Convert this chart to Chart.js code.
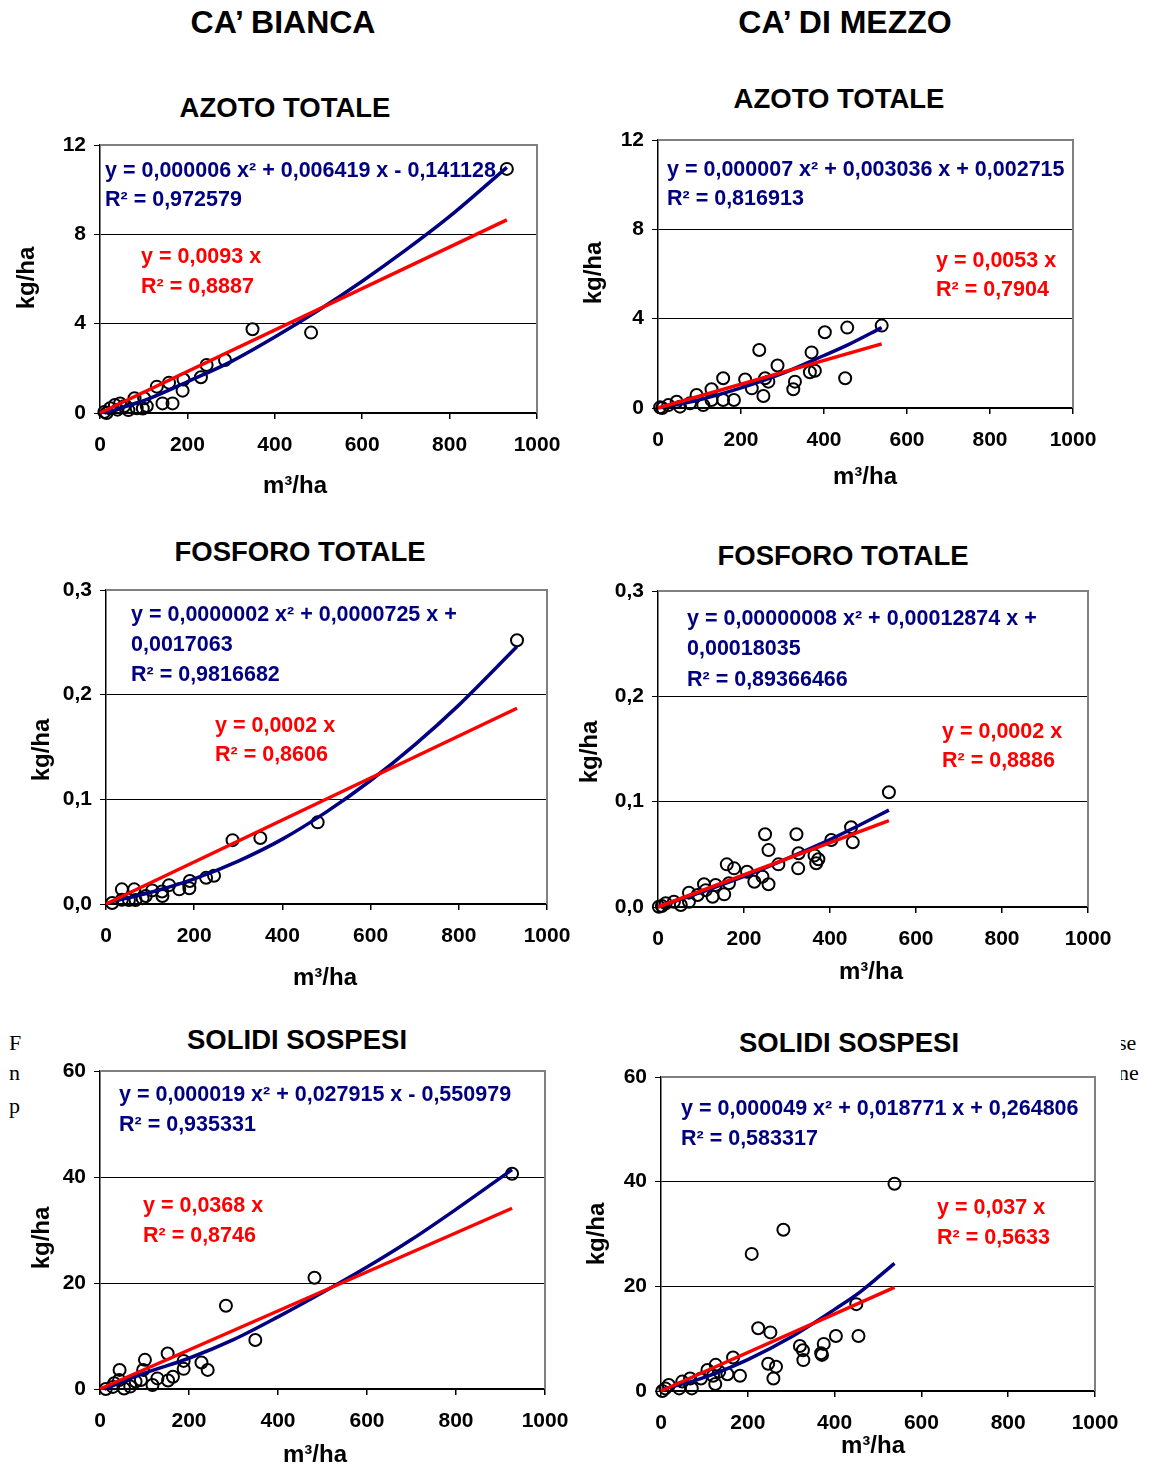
<!DOCTYPE html>
<html><head><meta charset="utf-8">
<script src="https://cdn.jsdelivr.net/npm/chart.js@4.4.0/dist/chart.umd.min.js"></script>
<style>
html,body{margin:0;padding:0;background:#fff;}
#page{position:relative;width:1152px;height:1470px;overflow:hidden;font-family:"Liberation Sans",Arial,sans-serif;background:#fff;}
canvas{position:absolute;left:0;top:0;}
.h{position:absolute;font-weight:bold;transform:translate(-50%,-50%);white-space:nowrap;color:#000;}
.bg{position:absolute;font-family:"Liberation Serif","Times New Roman",serif;font-size:22px;line-height:22px;transform:translateY(-50%);color:#000;}
</style></head><body><div id="page">
<div class="bg" style="left:9px;top:1043px">F</div>
<div class="bg" style="left:9px;top:1073px">n</div>
<div class="bg" style="left:9px;top:1106px">p</div>
<div class="bg" style="left:1121px;top:1043px;width:31px;overflow:hidden"><span style="margin-left:-3px">se</span></div>
<div class="bg" style="left:1121px;top:1073px;width:31px;overflow:hidden"><span style="margin-left:-3px">ne</span></div>
<div class="h" style="left:283px;top:22px;font-size:32px">CA’ BIANCA</div>
<div class="h" style="left:845px;top:22px;font-size:32px">CA’ DI MEZZO</div>
<div class="h" style="left:285px;top:108px;font-size:27.5px">AZOTO TOTALE</div>
<div class="h" style="left:839px;top:99px;font-size:27.5px">AZOTO TOTALE</div>
<div class="h" style="left:300px;top:552px;font-size:27.5px">FOSFORO TOTALE</div>
<div class="h" style="left:843px;top:556px;font-size:27.5px">FOSFORO TOTALE</div>
<div class="h" style="left:297px;top:1040px;font-size:27.5px">SOLIDI SOSPESI</div>
<div class="h" style="left:849px;top:1043px;font-size:27.5px">SOLIDI SOSPESI</div>
<canvas id="c1" width="1152" height="1470"></canvas>
<canvas id="c2" width="1152" height="1470"></canvas>
<canvas id="c3" width="1152" height="1470"></canvas>
<canvas id="c4" width="1152" height="1470"></canvas>
<canvas id="c5" width="1152" height="1470"></canvas>
<canvas id="c6" width="1152" height="1470"></canvas>
</div>
<script>
// ---------- DATA ----------
const xTickLabels = ['0','200','400','600','800','1000'];
const yTicksAzoto = ['0','4','8','12'];
const yTicksFosforo = ['0,0','0,1','0,2','0,3'];
const yTicksSolidi = ['0','20','40','60'];

// CA' BIANCA - AZOTO TOTALE
const cbAzX = [931,349,483,286,244,231,191,189,158,130,166,143,101,79,84,65,46,34,23,15,107,98,55,40,10];
const cbAzY = [10.93,3.75,3.6,2.37,2.15,1.6,1.5,1.0,1.36,1.18,0.43,0.43,0.66,0.66,0.21,0.13,0.43,0.36,0.21,0.0,0.31,0.2,0.3,0.15,0.05];
const cbAzPolyX = [10,100,200,300,400,500,600,700,800,931];
const cbAzPolyY = [0.0,0.55,1.4,2.3,3.4,4.6,5.9,7.3,8.8,11.0];
const cbAzLinX = [0,931];
const cbAzLinY = [0,8.65];

// CA' DI MEZZO - AZOTO TOTALE
const cmAzX = [539,456,402,451,370,378,366,330,326,288,244,266,258,254,226,210,157,183,157,129,129,93,109,77,45,53,25,5,10];
const cmAzY = [3.69,3.6,3.39,1.33,2.49,1.67,1.6,1.18,0.84,1.9,2.6,1.18,1.33,0.54,0.88,1.28,1.33,0.36,0.36,0.84,0.36,0.58,0.13,0.21,0.28,0.06,0.13,0.03,0.0];
const cmAzPolyX = [5,100,200,300,400,460,539];
const cmAzPolyY = [0.02,0.37,0.9,1.55,2.35,2.85,3.6];
const cmAzLinX = [0,539];
const cmAzLinY = [0,2.87];

// CA' BIANCA - FOSFORO TOTALE
const cbFoX = [932,480,350,287,245,227,190,189,166,143,128,127,105,90,64,36,67,52,36,14,83];
const cbFoY = [0.252,0.078,0.063,0.061,0.027,0.025,0.022,0.015,0.014,0.018,0.0076,0.012,0.013,0.0076,0.014,0.014,0.0038,0.0038,0.004,0.001,0.0054];
const cbFoPolyX = [10,100,200,300,400,500,600,700,800,932];
const cbFoPolyY = [0.002,0.011,0.024,0.041,0.062,0.088,0.118,0.152,0.19,0.246];
const cbFoLinX = [0,932];
const cbFoLinY = [0,0.187];

// CA' DI MEZZO - FOSFORO TOTALE
const cmFoX = [537,449,453,403,373,368,364,322,327,326,280,249,257,257,224,207,243,177,160,165,154,134,127,107,111,92,72,72,53,37,18,2,9];
const cmFoY = [0.109,0.0757,0.0614,0.0636,0.0453,0.0415,0.049,0.069,0.051,0.0367,0.0405,0.069,0.054,0.0216,0.024,0.0335,0.0288,0.0367,0.0405,0.0225,0.012,0.0209,0.0098,0.0216,0.016,0.0114,0.0136,0.005,0.0019,0.005,0.0035,0.0003,0.001];
const cmFoPolyX = [2,100,200,300,400,460,537];
const cmFoPolyY = [0.0005,0.014,0.029,0.046,0.064,0.076,0.092];
const cmFoLinX = [0,537];
const cmFoLinY = [0,0.082];

// CA' BIANCA - SOLIDI SOSPESI
const cbSoX = [926,482,283,349,242,228,188,188,152,164,153,129,118,101,97,92,80,68,44,43,32,29,13,54];
const cbSoY = [40.6,21.0,15.7,9.25,3.6,5.0,3.8,5.3,6.7,2.3,1.6,2.0,0.75,5.5,3.6,1.7,1.4,0.45,3.6,1.7,1.1,0.4,0.0,0.1];
const cbSoPolyX = [10,100,200,300,400,500,600,700,800,926];
const cbSoPolyY = [0.0,3.0,5.8,9.3,13.6,18.2,23.0,28.2,33.9,41.4];
const cbSoLinX = [0,926];
const cbSoLinY = [0,34.1];

// CA' DI MEZZO - SOLIDI SOSPESI
const cmSoX = [538,282,209,450,455,403,375,369,371,320,328,327,224,252,247,265,259,182,166,153,126,125,107,92,71,67,49,42,18,3,10,134,120];
const cmSoY = [39.6,30.8,26.2,16.6,10.5,10.5,9.0,7.2,6.9,8.6,5.9,7.8,12.0,11.2,5.2,4.65,2.4,2.9,6.4,3.2,5.0,1.35,4.0,2.4,0.5,2.4,1.8,0.5,1.15,0.0,0.5,3.7,2.9];
const cmSoPolyX = [3,100,200,300,400,460,538];
const cmSoPolyY = [0.3,2.6,6.0,10.3,15.6,19.0,24.4];
const cmSoLinX = [0,538];
const cmSoLinY = [0,19.8];

// Trendline equations
const eqCbAzPoly = ['y = 0,000006 x² + 0,006419 x - 0,141128','R² = 0,972579'];
const eqCbAzLin = ['y = 0,0093 x','R² = 0,8887'];
const eqCmAzPoly = ['y = 0,000007 x² + 0,003036 x + 0,002715','R² = 0,816913'];
const eqCmAzLin = ['y = 0,0053 x','R² = 0,7904'];
const eqCbFoPoly = ['y = 0,0000002 x² + 0,0000725 x +','0,0017063','R² = 0,9816682'];
const eqCbFoLin = ['y = 0,0002 x','R² = 0,8606'];
const eqCmFoPoly = ['y = 0,00000008 x² + 0,00012874 x +','0,00018035','R² = 0,89366466'];
const eqCmFoLin = ['y = 0,0002 x','R² = 0,8886'];
const eqCbSoPoly = ['y = 0,000019 x² + 0,027915 x - 0,550979','R² = 0,935331'];
const eqCbSoLin = ['y = 0,0368 x','R² = 0,8746'];
const eqCmSoPoly = ['y = 0,000049 x² + 0,018771 x + 0,264806','R² = 0,583317'];
const eqCmSoLin = ['y = 0,037 x','R² = 0,5633'];

const yTitle = 'kg/ha';
const xTitle = 'm³/ha';

// ---------- RENDERING ----------
const FONT = '"Liberation Sans", Arial, sans-serif';
const BLUE = '#000080';
const RED = '#ff0000';
const XH = 54;

const textPlugin = {
  id: 'panelText',
  afterDraw(chart, args, opts) {
    const ctx = chart.ctx;
    (opts.items || []).forEach(t => {
      ctx.save();
      ctx.font = 'bold ' + t.size + 'px ' + FONT;
      ctx.fillStyle = t.color || '#000';
      ctx.textAlign = t.align || 'left';
      ctx.textBaseline = 'middle';
      ctx.translate(t.x, t.y);
      if (t.rot) ctx.rotate(t.rot);
      ctx.fillText(t.text, 0, 0);
      ctx.restore();
    });
  }
};
const framePlugin = {
  id: 'frame',
  beforeDatasetsDraw(chart) {
    const {ctx, chartArea: a} = chart;
    ctx.save();
    ctx.strokeStyle = '#808080';
    ctx.lineWidth = 2;
    ctx.beginPath();
    ctx.moveTo(a.left, a.top);
    ctx.lineTo(a.right, a.top);
    ctx.lineTo(a.right, a.bottom);
    ctx.stroke();
    ctx.restore();
  }
};

function pts(xs, ys) { return xs.map((x, i) => ({x: x, y: ys[i]})); }

function eqItems(lines, x, y0, dy, color) {
  return lines.map((s, i) => ({text: s, x: x, y: y0 + i * dy, size: 21.5, color: color}));
}

function panel(id, plot, sx, sy, px, py, lx, ly, yMax, yStep, yLabels, items) {
  new Chart(document.getElementById(id), {
    type: 'scatter',
    data: {
      datasets: [
        {data: pts(sx, sy), order: 3, pointStyle: 'circle', pointRadius: 6, pointBorderWidth: 2,
         pointBorderColor: '#000', pointBackgroundColor: 'rgba(0,0,0,0)', clip: false},
        {data: pts(px, py), order: 2, showLine: true, pointRadius: 0, borderColor: BLUE, borderWidth: 3.5,
         cubicInterpolationMode: 'monotone', clip: false},
        {data: pts(lx, ly), order: 1, showLine: true, pointRadius: 0, borderColor: RED, borderWidth: 3.5, clip: false}
      ]
    },
    options: {
      responsive: false, animation: false, devicePixelRatio: 1,
      layout: {padding: {left: 0, top: plot.top, right: 1152 - plot.right, bottom: 1470 - plot.bottom - XH}},
      plugins: {legend: {display: false}, tooltip: {enabled: false}, panelText: {items: items}},
      scales: {
        x: {
          type: 'linear', min: 0, max: 1000,
          ticks: {stepSize: 200, autoSkip: false, maxRotation: 0, padding: 14, color: '#000',
                  font: {family: FONT, size: 21, weight: 'bold'},
                  callback: (v, i) => xTickLabels[i]},
          grid: {drawOnChartArea: false, color: '#000', tickColor: '#000', tickLength: 6, lineWidth: 1.5},
          border: {color: '#000', width: 1.5},
          afterFit: s => { s.height = XH; }
        },
        y: {
          min: 0, max: yMax,
          ticks: {stepSize: yStep, autoSkip: false, padding: 8, color: '#000',
                  font: {family: FONT, size: 21, weight: 'bold'},
                  callback: (v, i) => yLabels[i]},
          grid: {color: '#000', tickColor: '#000', tickLength: 6, lineWidth: 1},
          border: {color: '#000', width: 1.5},
          afterFit: s => { s.width = plot.left; }
        }
      }
    },
    plugins: [framePlugin, textPlugin]
  });
}

function axisTitles(yx, yy, xx, xy) {
  return [
    {text: yTitle, x: yx, y: yy, size: 24, rot: -Math.PI / 2, align: 'center'},
    {text: xTitle, x: xx, y: xy, size: 24, align: 'center'}
  ];
}

panel('c1', {left: 100, top: 145, right: 537, bottom: 413}, cbAzX, cbAzY, cbAzPolyX, cbAzPolyY, cbAzLinX, cbAzLinY,
  12, 4, yTicksAzoto,
  axisTitles(27, 278, 295, 486)
    .concat(eqItems(eqCbAzPoly, 105, 171, 29.5, BLUE))
    .concat(eqItems(eqCbAzLin, 141, 257, 30, RED)));

panel('c2', {left: 658, top: 140, right: 1073, bottom: 408}, cmAzX, cmAzY, cmAzPolyX, cmAzPolyY, cmAzLinX, cmAzLinY,
  12, 4, yTicksAzoto,
  axisTitles(594, 273, 865, 477)
    .concat(eqItems(eqCmAzPoly, 667, 170, 29.5, BLUE))
    .concat(eqItems(eqCmAzLin, 936, 261, 29.5, RED)));

panel('c3', {left: 106, top: 590, right: 547, bottom: 904}, cbFoX, cbFoY, cbFoPolyX, cbFoPolyY, cbFoLinX, cbFoLinY,
  0.3, 0.1, yTicksFosforo,
  axisTitles(42, 750, 325, 978)
    .concat(eqItems(eqCbFoPoly, 131, 615, 30, BLUE))
    .concat(eqItems(eqCbFoLin, 215, 726, 29.5, RED)));

panel('c4', {left: 658, top: 591, right: 1088, bottom: 907}, cmFoX, cmFoY, cmFoPolyX, cmFoPolyY, cmFoLinX, cmFoLinY,
  0.3, 0.1, yTicksFosforo,
  axisTitles(590, 752, 871, 972)
    .concat(eqItems(eqCmFoPoly, 687, 619, 30.5, BLUE))
    .concat(eqItems(eqCmFoLin, 942, 732, 29.5, RED)));

panel('c5', {left: 100, top: 1071, right: 545, bottom: 1389}, cbSoX, cbSoY, cbSoPolyX, cbSoPolyY, cbSoLinX, cbSoLinY,
  60, 20, yTicksSolidi,
  axisTitles(42, 1238, 315, 1455)
    .concat(eqItems(eqCbSoPoly, 119, 1095, 30, BLUE))
    .concat(eqItems(eqCbSoLin, 143, 1206, 30, RED)));

panel('c6', {left: 661, top: 1077, right: 1095, bottom: 1391}, cmSoX, cmSoY, cmSoPolyX, cmSoPolyY, cmSoLinX, cmSoLinY,
  60, 20, yTicksSolidi,
  axisTitles(597, 1234, 873, 1446)
    .concat(eqItems(eqCmSoPoly, 681, 1109, 30, BLUE))
    .concat(eqItems(eqCmSoLin, 937, 1208, 30, RED)));
</script>
</body></html>
